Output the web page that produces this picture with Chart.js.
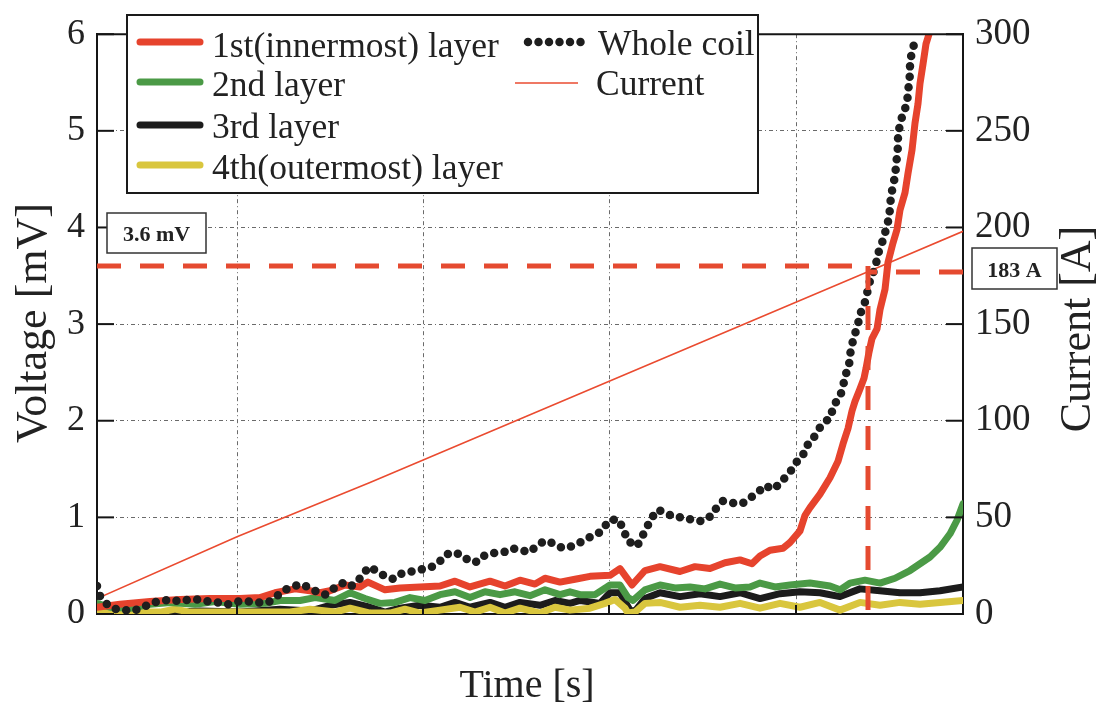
<!DOCTYPE html>
<html><head><meta charset="utf-8">
<script src="https://cdn.jsdelivr.net/npm/chart.js@4.4.1/dist/chart.umd.min.js"></script>
<style>html,body{margin:0;padding:0;background:#fff;}#wrap{width:1099px;height:706px;position:relative;}</style>
</head><body><div id="wrap"><canvas id="c"></canvas></div>
<script>
// ---- data (time in s, voltage in mV, current in A) ----
const gridTimes = [140, 326, 512, 699];
const voltTicks = [0, 1, 2, 3, 4, 5, 6];
const currTicks = [0, 50, 100, 150, 200, 250, 300];

const wcTime = [0,2,11,19,29,36,46,56,63,74,83,92,103,111,121,131,141,151,161,171,178,186,195,204,211,220,228,236,245,253,261,266,273,280,290,297,305,315,324,333,341,348,356,365,373,381,388,397,407,415,423,433,439,448,457,466,475,483,491,500,506,512,521,527,530,540,545,550,555,561,570,578,587,596,605,615,620,626,634,645,653,661,668,676,684,690,697,701,706,708,716,720,726,734,736,743,746,748,752,753,755,758,761,763,768,773,778,782,786,789,792,793,794,796,798,799,800,801,801,803,806,810,811,812,813,813,815,818];
const wcVolt = [0.29,0.20,0.09,0.05,0.04,0.03,0.07,0.12,0.13,0.15,0.13,0.15,0.15,0.13,0.12,0.10,0.13,0.13,0.12,0.12,0.17,0.24,0.28,0.31,0.28,0.23,0.20,0.26,0.32,0.28,0.34,0.42,0.49,0.44,0.38,0.36,0.42,0.44,0.46,0.48,0.52,0.61,0.64,0.61,0.54,0.54,0.61,0.63,0.64,0.68,0.66,0.64,0.70,0.76,0.73,0.68,0.70,0.74,0.79,0.82,0.88,0.97,0.98,0.87,0.76,0.70,0.80,0.90,1.00,1.08,1.04,1.00,1.00,0.97,0.96,1.02,1.11,1.17,1.15,1.14,1.20,1.26,1.33,1.29,1.36,1.44,1.52,1.60,1.64,1.72,1.81,1.89,1.97,2.04,2.15,2.25,2.35,2.46,2.57,2.68,2.79,2.90,3.00,3.10,3.23,3.45,3.58,3.76,3.87,3.98,4.10,4.20,4.33,4.43,4.53,4.63,4.74,4.84,4.95,5.07,5.18,5.28,5.40,5.49,5.59,5.71,5.82,5.93];

const l1Time = [0,23,53,83,113,143,163,178,198,213,223,233,248,263,271,288,303,323,343,358,373,393,408,423,438,448,463,478,493,513,523,535,548,563,583,598,613,628,643,655,663,673,686,693,703,708,713,723,733,741,746,751,755,758,763,767,769,772,775,780,783,788,791,796,800,803,808,811,815,818,821,823,826,829,832];
const l1Volt = [0.07,0.10,0.13,0.15,0.16,0.16,0.17,0.22,0.26,0.24,0.22,0.24,0.30,0.28,0.33,0.25,0.27,0.28,0.29,0.34,0.28,0.34,0.29,0.35,0.31,0.37,0.33,0.36,0.39,0.40,0.47,0.30,0.45,0.49,0.44,0.49,0.47,0.53,0.56,0.52,0.60,0.66,0.68,0.74,0.86,1.02,1.10,1.24,1.41,1.58,1.76,1.92,2.10,2.20,2.33,2.44,2.54,2.71,2.85,2.95,3.15,3.36,3.64,3.84,3.98,4.18,4.36,4.56,4.80,5.08,5.28,5.49,5.69,5.90,6.0];

const l2Time = [0,13,33,53,73,98,118,143,168,183,203,218,238,253,268,283,298,313,328,343,358,373,388,403,418,433,448,463,473,483,498,513,523,531,536,548,563,578,593,608,623,638,653,663,678,693,713,733,743,753,768,783,798,813,823,833,843,853,860,866];
const l2Volt = [0.11,0.07,0.06,0.10,0.12,0.10,0.13,0.10,0.11,0.14,0.14,0.17,0.14,0.22,0.16,0.11,0.12,0.17,0.14,0.20,0.23,0.17,0.23,0.20,0.23,0.19,0.25,0.20,0.23,0.20,0.20,0.30,0.30,0.17,0.14,0.25,0.30,0.27,0.28,0.26,0.31,0.27,0.28,0.32,0.28,0.30,0.32,0.29,0.25,0.32,0.35,0.32,0.37,0.45,0.52,0.59,0.69,0.83,0.97,1.14];

const l3Time = [0,33,63,103,143,183,213,233,253,273,288,303,323,343,358,373,393,408,423,443,458,473,483,503,513,523,533,538,548,563,583,603,623,643,663,683,703,723,743,763,783,803,823,843,866];
const l3Volt = [0.07,0.02,0.01,0.03,0.02,0.05,0.03,0.09,0.12,0.07,0.02,0.06,0.09,0.07,0.12,0.07,0.12,0.07,0.12,0.09,0.14,0.11,0.14,0.11,0.22,0.22,0.04,0.03,0.16,0.22,0.18,0.21,0.18,0.22,0.16,0.21,0.23,0.22,0.18,0.26,0.24,0.22,0.22,0.24,0.28];

const l4Time = [0,23,63,78,93,143,193,213,238,253,273,293,308,323,343,363,378,393,408,423,443,458,473,493,508,518,528,531,538,548,563,583,603,623,643,663,683,703,723,743,763,783,803,823,843,866];
const l4Volt = [0.04,0.02,0.02,0.05,0.02,0.02,0.02,0.05,0.02,0.06,0.01,0.01,0.05,0.01,0.04,0.07,0.02,0.07,0.01,0.06,0.01,0.07,0.04,0.06,0.11,0.15,0.06,0.01,0.02,0.11,0.12,0.07,0.09,0.07,0.11,0.06,0.11,0.07,0.12,0.04,0.12,0.09,0.12,0.10,0.12,0.14];

const curTime = [0, 140, 273, 775, 866];
const curAmp = [8, 40, 68, 178, 198];

const markTime = 771;     // time of the 3.6 mV criterion
const markVolt = 3.6;     // mV
const markAmpDrawn = 177; // A, where the dashed current marker is drawn
const markVoltLabel = '3.6 mV';
const markAmpLabel = '183 A';
const timeMax = 866;

// ---- helpers / styles ----
const SERIF = '"Liberation Serif","Times New Roman",Times,serif';
const toXY = (xs, ys) => xs.map((x, i) => ({x: x, y: ys[i]}));
const RED = '#e6432d', GREEN = '#4b9a46', BLACK = '#1c1c1c', YELLOW = '#d9c63e', DASHRED = '#e54a30';

Chart.defaults.font.family = SERIF;
Chart.defaults.color = '#222';

const decor = {
  id: 'decor',
  afterDraw(chart) {
    const {ctx, chartArea: a, scales} = chart;
    const ds = chart.data.datasets;
    const line = (x1, y1, x2, y2) => { ctx.beginPath(); ctx.moveTo(x1, y1); ctx.lineTo(x2, y2); ctx.stroke(); };
    ctx.save();
    ctx.setLineDash([]);
    ctx.strokeStyle = '#151515';
    ctx.lineWidth = 2;
    line(a.left - 1, a.top, a.right + 1, a.top);
    scales.y.ticks.forEach(t => { const p = scales.y.getPixelForValue(t.value); line(a.left, p, a.left + 17, p); });
    scales.y2.ticks.forEach(t => { const p = scales.y2.getPixelForValue(t.value); line(a.right - 17, p, a.right, p); });
    scales.x.ticks.forEach(t => { const p = scales.x.getPixelForValue(t.value); line(p, a.bottom, p, a.bottom - 9); });

    // legend
    ctx.fillStyle = '#fff';
    ctx.fillRect(127, 15, 631, 178);
    ctx.strokeStyle = '#1a1a1a'; ctx.lineWidth = 2;
    ctx.strokeRect(127, 15, 631, 178);
    const items = [
      {i: 1, x1: 140, x2: 200, ly: 42, tx: 212, ty: 57},
      {i: 2, x1: 140, x2: 200, ly: 82, tx: 212, ty: 96},
      {i: 3, x1: 140, x2: 200, ly: 125, tx: 212, ty: 138},
      {i: 4, x1: 140, x2: 200, ly: 165, tx: 212, ty: 179},
      {i: 0, x1: 528, x2: 582, ly: 42, tx: 598, ty: 55},
      {i: 5, x1: 515, x2: 578, ly: 83, tx: 596, ty: 95}
    ];
    items.forEach(it => {
      const d = ds[it.i];
      ctx.save();
      ctx.strokeStyle = d.borderColor;
      ctx.lineWidth = d.borderWidth;
      ctx.setLineDash(d.borderDash || []);
      ctx.lineCap = d.borderCapStyle || 'butt';
      line(it.x1, it.ly, it.x2, it.ly);
      ctx.restore();
      ctx.fillStyle = '#222';
      ctx.font = '35.5px ' + SERIF;
      ctx.textAlign = 'left';
      ctx.textBaseline = 'alphabetic';
      ctx.fillText(d.label, it.tx, it.ty);
    });

    // value boxes
    const box = (x, y, w, h, txt) => {
      ctx.fillStyle = '#fff'; ctx.fillRect(x, y, w, h);
      ctx.strokeStyle = '#333'; ctx.lineWidth = 1.5; ctx.strokeRect(x, y, w, h);
      ctx.fillStyle = '#222'; ctx.font = 'bold 22px ' + SERIF;
      ctx.textAlign = 'center'; ctx.textBaseline = 'alphabetic';
      ctx.fillText(txt, x + w / 2, y + h / 2 + 8);
    };
    box(107, 213, 99, 40, markVoltLabel);
    box(972, 248, 85, 41, markAmpLabel);

    // axis titles
    ctx.fillStyle = '#222';
    ctx.textAlign = 'center'; ctx.textBaseline = 'alphabetic';
    ctx.font = '40px ' + SERIF;
    ctx.fillText('Time [s]', 527, 697);
    ctx.font = '44px ' + SERIF;
    ctx.save(); ctx.translate(46, 323); ctx.rotate(-Math.PI / 2); ctx.fillText('Voltage [mV]', 0, 0); ctx.restore();
    ctx.save(); ctx.translate(1090, 329); ctx.rotate(-Math.PI / 2); ctx.fillText('Current [A]', 0, 0); ctx.restore();
    ctx.restore();
  }
};

const layer = (label, xs, ys, color, order) => ({
  label, data: toXY(xs, ys), yAxisID: 'y', borderColor: color, borderWidth: 7,
  borderCapStyle: 'round', borderJoinStyle: 'round', pointRadius: 0, tension: 0, order
});

new Chart(document.getElementById('c'), {
  type: 'line',
  data: {
    datasets: [
      {label: 'Whole coil', data: toXY(wcTime, wcVolt), yAxisID: 'y', borderColor: '#1e1e1e', borderWidth: 8.5,
       borderDash: [0, 10.5], borderCapStyle: 'round', pointRadius: 0, order: 1},
      layer('1st(innermost) layer', l1Time, l1Volt, RED, 2),
      layer('2nd layer', l2Time, l2Volt, GREEN, 3),
      layer('3rd layer', l3Time, l3Volt, BLACK, 5),
      layer('4th(outermost) layer', l4Time, l4Volt, YELLOW, 4),
      {label: 'Current', data: toXY(curTime, curAmp), yAxisID: 'y2', borderColor: '#ea4b30', borderWidth: 1.6,
       pointRadius: 0, order: 6},
      {label: 'mark-v', data: [{x: 0, y: markVolt}, {x: markTime, y: markVolt}], yAxisID: 'y',
       borderColor: DASHRED, borderWidth: 5, borderDash: [24, 19], pointRadius: 0, order: 0},
      {label: 'mark-t', data: [{x: markTime, y: markVolt}, {x: markTime, y: 0}], yAxisID: 'y',
       borderColor: DASHRED, borderWidth: 5, borderDash: [24, 16], pointRadius: 0, order: 0},
      {label: 'mark-a', data: [{x: timeMax, y: markAmpDrawn}, {x: markTime, y: markAmpDrawn}], yAxisID: 'y2',
       borderColor: DASHRED, borderWidth: 5, borderDash: [24, 19], pointRadius: 0, order: 0}
    ]
  },
  options: {
    responsive: true, maintainAspectRatio: false, devicePixelRatio: 1, animation: false,
    layout: {padding: {top: 30, left: 0, right: 0, bottom: 0}},
    plugins: {legend: {display: false}, tooltip: {enabled: false}},
    elements: {point: {radius: 0}},
    scales: {
      x: {type: 'linear', position: 'bottom', min: 0, max: timeMax,
          afterBuildTicks: s => { s.ticks = gridTimes.map(v => ({value: v})); },
          ticks: {display: false},
          grid: {color: '#6a6a6a', lineWidth: 1, drawTicks: false},
          border: {display: true, color: '#151515', width: 2, dash: [4, 3, 1, 3]},
          afterFit: s => { s.height = 92; }},
      y: {position: 'left', min: 0, max: 6,
          afterBuildTicks: s => { s.ticks = voltTicks.map(v => ({value: v})); },
          ticks: {padding: 12, font: {size: 36}, color: '#222'},
          grid: {color: '#6a6a6a', lineWidth: 1, drawTicks: false},
          border: {display: true, color: '#151515', width: 2, dash: [4, 3, 1, 3]},
          afterFit: s => { s.width = 97; }},
      y2: {position: 'right', min: 0, max: 300,
          afterBuildTicks: s => { s.ticks = currTicks.map(v => ({value: v})); },
          ticks: {padding: 12, font: {size: 37}, color: '#222'},
          grid: {display: false, drawTicks: false},
          border: {display: true, color: '#151515', width: 2},
          afterFit: s => { s.width = 136; }}
    }
  },
  plugins: [decor]
});
</script>
</body></html>
